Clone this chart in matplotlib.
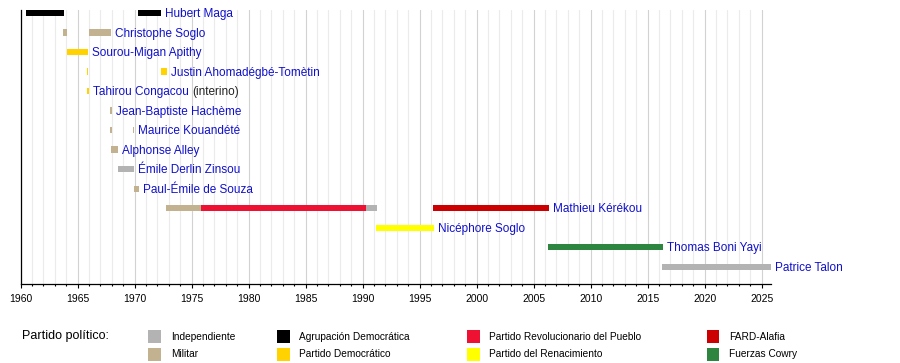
import matplotlib
matplotlib.use("Agg")
import matplotlib.pyplot as plt
from matplotlib.patches import Rectangle

plt.rcParams['font.family'] = ['Liberation Sans', 'DejaVu Sans']

# parties (legend order, column-wise)
parties = ["Independiente", "Militar",
           "Agrupación Democrática", "Partido Democrático",
           "Partido Revolucionario del Pueblo", "Partido del Renacimiento",
           "FARD-Alafia", "Fuerzas Cowry"]
party_colors = ["#b3b3b3", "#c2b28f", "#000000", "#ffd200",
                "#ef1131", "#ffff00", "#cc0000", "#2e8540"]

# one row per president, top to bottom
presidents = ["Hubert Maga", "Christophe Soglo", "Sourou-Migan Apithy",
              "Justin Ahomadégbé-Tomètin", "Tahirou Congacou",
              "Jean-Baptiste Hachème", "Maurice Kouandété", "Alphonse Alley",
              "Émile Derlin Zinsou", "Paul-Émile de Souza", "Mathieu Kérékou",
              "Nicéphore Soglo", "Thomas Boni Yayi", "Patrice Talon"]
label_suffix = {"Tahirou Congacou": "(interino)"}

# terms: row index, start year, end year, party index
seg_row = [0, 0, 1, 1, 2, 3, 3, 4, 5, 6, 6, 7, 8, 9, 10, 10, 10, 10, 11, 12, 13]
seg_start = [1960.50, 1970.30, 1963.75, 1965.95, 1964.05, 1965.80, 1972.33,
             1965.84, 1967.87, 1967.87, 1969.86, 1967.93, 1968.50, 1969.93,
             1972.75, 1975.82, 1990.29, 1996.17, 1991.17, 2006.28, 2016.28]
seg_end = [1963.80, 1972.30, 1964.07, 1967.95, 1965.90, 1965.92, 1972.85,
           1965.98, 1967.99, 1967.99, 1969.97, 1968.52, 1969.95, 1970.40,
           1975.82, 1990.29, 1991.25, 2006.35, 1996.23, 2016.32, 2025.79]
seg_party = [2, 2, 1, 1, 3, 3, 3, 3, 1, 1, 1, 1, 0, 1, 1, 4, 0, 6, 5, 7, 0]

year_start = 1960
year_end = 2025.79

W, H = 900, 363
fig = plt.figure(figsize=(W / 100, H / 100), dpi=100)


def fx(px):
    return px / W


def fy(py):
    return 1 - py / H


ax = fig.add_axes([fx(20.7), fy(283.5), fx(770.7) - fx(20.7), fy(10) - fy(283.5)])

for r, s, e, p in zip(seg_row, seg_start, seg_end, seg_party):
    ax.barh(r, e - s, left=s, height=0.31, color=party_colors[p], linewidth=0, zorder=3)

# name labels after the last term of each row
for i, name in enumerate(presidents):
    last = max(e for r, e in zip(seg_row, seg_end) if r == i)
    t = ax.annotate(name, xy=(last, i), xytext=(2.8, -3.0), textcoords='offset points',
                    va='baseline', ha='left', fontsize=8.5, color='#1010cc', zorder=4)
    if name in label_suffix:
        ax.annotate(label_suffix[name], xy=(1, 0), xycoords=t, xytext=(2.4, 0),
                    textcoords='offset points', va='bottom', ha='left',
                    fontsize=8.5, color='#222222')

ax.set_xlim(year_start, year_end)
ax.set_ylim(len(presidents) - 1 + 0.87, -0.154)
ax.set_yticks([])
ax.set_xticks(range(1960, 2026, 5))
ax.set_xticks(range(1960, 2026), minor=True)
ax.grid(which='minor', axis='x', color='#ebebeb', linewidth=0.8, zorder=0)
ax.grid(which='major', axis='x', color='#d2d2d2', linewidth=0.8, zorder=1)
ax.set_axisbelow(True)
ax.tick_params(axis='x', which='major', direction='out', length=2.6, width=0.8,
               pad=5.2, labelsize=7.5)
ax.tick_params(axis='x', which='minor', direction='out', length=1.6, width=0.8)
for side in ['top', 'right']:
    ax.spines[side].set_visible(False)
for side in ['left', 'bottom']:
    ax.spines[side].set_linewidth(0.9)

# legend
fig.text(fx(21.5), fy(336), "Partido político:", fontsize=9, va='center', ha='left')
col_square_x = [148.3, 277.3, 467.3, 706.7]
col_text_x = [170.7, 299.3, 489.3, 729.3]
row_y = [336.5, 354.2]
for k, (pname, pcol) in enumerate(zip(parties, party_colors)):
    c, rr = divmod(k, 2)
    sq = 12.6
    fig.add_artist(Rectangle((fx(col_square_x[c]), fy(row_y[rr] + sq / 2)),
                             sq / W, sq / H, transform=fig.transFigure,
                             facecolor=pcol, edgecolor='none'))
    fig.text(fx(col_text_x[c]), fy(row_y[rr]), pname, fontsize=7.3, va='center', ha='left')

fig.savefig("out.png", dpi=100)
